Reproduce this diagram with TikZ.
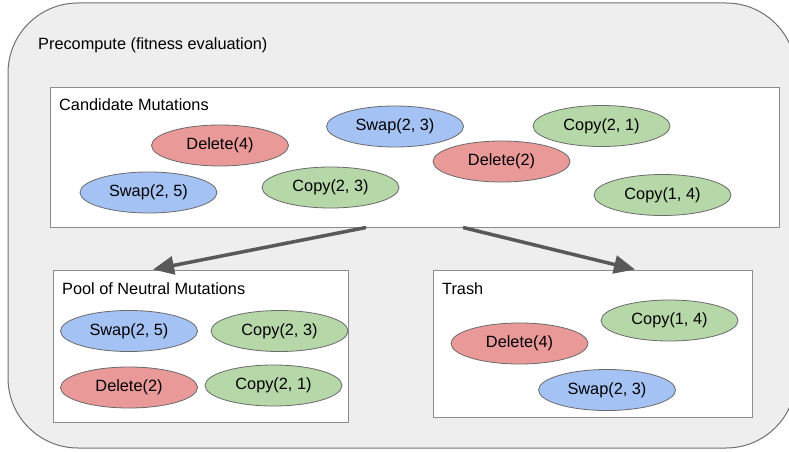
\documentclass[tikz,border=0pt]{standalone}
\usepackage{fontspec}
\setmainfont{Liberation Sans}
\usetikzlibrary{shapes.geometric,arrows.meta}
\definecolor{outerfill}{HTML}{EEEEEE}
\definecolor{outerline}{HTML}{707070}
\definecolor{boxline}{HTML}{8C8C8C}
\definecolor{redfill}{HTML}{EA9999}
\definecolor{bluefill}{HTML}{A4C2F4}
\definecolor{greenfill}{HTML}{B6D7A8}
\definecolor{ellline}{HTML}{6A6A6A}
\definecolor{arrowcol}{HTML}{595959}
\tikzset{
  txt/.style={font=\fontsize{16.3pt}{19pt}\selectfont, text=black},
  mut/.style={ellipse, draw=ellline, line width=0.8pt, minimum width=137pt, minimum height=41pt, inner sep=0pt, txt},
  del/.style={mut, fill=redfill},
  swp/.style={mut, fill=bluefill},
  cpy/.style={mut, fill=greenfill},
  boxnode/.style={rectangle, draw=boxline, fill=white, line width=1pt, inner sep=0pt},
  lbl/.style={anchor=base west, inner sep=0pt, txt},
  arr/.style={draw=arrowcol, line width=3.5pt, -{Triangle[length=21pt,width=18pt]}}
}
\begin{document}
\begin{tikzpicture}[x=1pt,y=-1pt]
\useasboundingbox (0,0) rectangle (789,452);
\clip (0,0) rectangle (789,452);
\draw[fill=outerfill, draw=outerline, line width=1pt, rounded corners=70pt] (8,3) rectangle (796,448);
\node[lbl] (title) at (38,50) {Precompute (fitness evaluation)};

% Candidate mutations
\node[boxnode, minimum width=729pt, minimum height=140pt] (cand) at (414.5,157) {};
\node[lbl] (candlbl) at (59,110) {Candidate Mutations};
\node[del] (c1) at (220,145.5) {Delete(4)};
\node[swp] (c2) at (148.5,192.5) {Swap(2, 5)};
\node[cpy] (c3) at (330.5,187.5) {Copy(2, 3)};
\node[swp] (c4) at (395,126.5) {Swap(2, 3)};
\node[del] (c5) at (501.5,161.5) {Delete(2)};
\node[cpy] (c6) at (601.5,126) {Copy(2, 1)};
\node[cpy] (c7) at (662.5,195) {Copy(1, 4)};

% Pool
\node[boxnode, minimum width=295pt, minimum height=152pt] (pool) at (200.5,346) {};
\node[lbl] (poollbl) at (62,294) {Pool of Neutral Mutations};
\node[swp] (p1) at (129,331) {Swap(2, 5)};
\node[cpy] (p2) at (279.5,331) {Copy(2, 3)};
\node[del] (p3) at (129,387.5) {Delete(2)};
\node[cpy] (p4) at (273.5,385.5) {Copy(2, 1)};

% Trash
\node[boxnode, minimum width=319pt, minimum height=147pt] (trash) at (592.5,343.5) {};
\node[lbl] (trashlbl) at (442,294) {Trash};
\node[cpy] (t1) at (669.5,320.5) {Copy(1, 4)};
\node[del] (t2) at (519.5,343.5) {Delete(4)};
\node[swp] (t3) at (607,390) {Swap(2, 3)};

% Arrows
\draw[arr] ([xshift=-48.5pt]cand.south) -- ([xshift=-47.5pt]pool.north);
\draw[arr] ([xshift=48.5pt]cand.south) -- ([xshift=42.5pt]trash.north);
\end{tikzpicture}
\end{document}
